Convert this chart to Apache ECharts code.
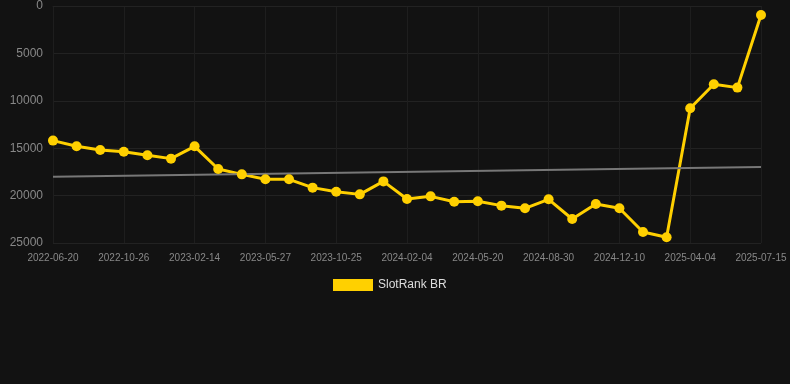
<!DOCTYPE html>
<html>
<head>
<meta charset="utf-8">
<script src="https://cdn.jsdelivr.net/npm/echarts@6/dist/echarts.min.js"></script>
<style>
html,body{margin:0;padding:0;background:#121212;}
#chart{width:790px;height:384px;}
</style>
</head>
<body>
<div id="chart"></div>
<script>
var dates = ['2022-06-20','2022-08-01','2022-09-13','2022-10-26','2022-12-03','2023-01-08','2023-02-14','2023-03-19','2023-04-22','2023-05-27','2023-07-16','2023-09-05','2023-10-25','2023-12-01','2024-01-02','2024-02-04','2024-03-10','2024-04-15','2024-05-20','2024-06-23','2024-07-27','2024-08-30','2024-10-05','2024-11-07','2024-12-10','2025-01-23','2025-02-28','2025-04-04','2025-05-10','2025-06-12','2025-07-15'];
var rankValues = [14200,14800,15190,15370,15750,16100,14800,17190,17760,18280,18280,19160,19590,19870,18500,20360,20080,20640,20600,21060,21340,20390,22470,20890,21340,23840,24400,10790,8260,8610,950];
var trendStart = 18000;
var trendEnd = 16980;
var seriesName = 'SlotRank BR';

var trendData = dates.map(function(d, i){
  if (i === 0) return trendStart;
  if (i === dates.length - 1) return trendEnd;
  return null;
});

var chart = echarts.init(document.getElementById('chart'));
chart.setOption({
  backgroundColor: '#121212',
  animation: false,
  grid: {left: 53, right: 29, top: 6, bottom: 141},
  legend: {
    data: [{name: seriesName, icon: 'rect'}],
    top: 274,
    left: 328,
    itemWidth: 40,
    itemHeight: 12,
    itemGap: 10,
    textStyle: {color: '#dddddd', fontSize: 12, fontFamily: 'Liberation Sans, Arial, sans-serif'}
  },
  xAxis: {
    type: 'category',
    data: dates,
    boundaryGap: false,
    axisLine: {lineStyle: {color: '#222222'}},
    axisTick: {show: false},
    axisLabel: {interval: 2, color: '#888888', fontSize: 10, fontFamily: 'Liberation Sans, Arial, sans-serif', margin: 10},
    splitLine: {show: true, interval: 2, lineStyle: {color: '#1e1e1e'}}
  },
  yAxis: {
    type: 'value',
    inverse: true,
    min: 0,
    max: 25000,
    interval: 5000,
    axisLine: {show: false},
    axisTick: {show: false},
    axisLabel: {color: '#888888', fontSize: 12, fontFamily: 'Liberation Sans, Arial, sans-serif', margin: 10, formatter: function(v){ return String(v); }},
    splitLine: {lineStyle: {color: '#222222'}}
  },
  series: [
    {
      name: seriesName,
      type: 'line',
      data: rankValues,
      symbol: 'circle',
      symbolSize: 10,
      itemStyle: {color: '#FFD000'},
      lineStyle: {color: '#FFD000', width: 3}
    },
    {
      name: 'trend',
      type: 'line',
      data: trendData,
      connectNulls: true,
      symbol: 'none',
      lineStyle: {color: '#777777', width: 2},
      itemStyle: {color: '#777777'}
    }
  ]
});
</script>
</body>
</html>
